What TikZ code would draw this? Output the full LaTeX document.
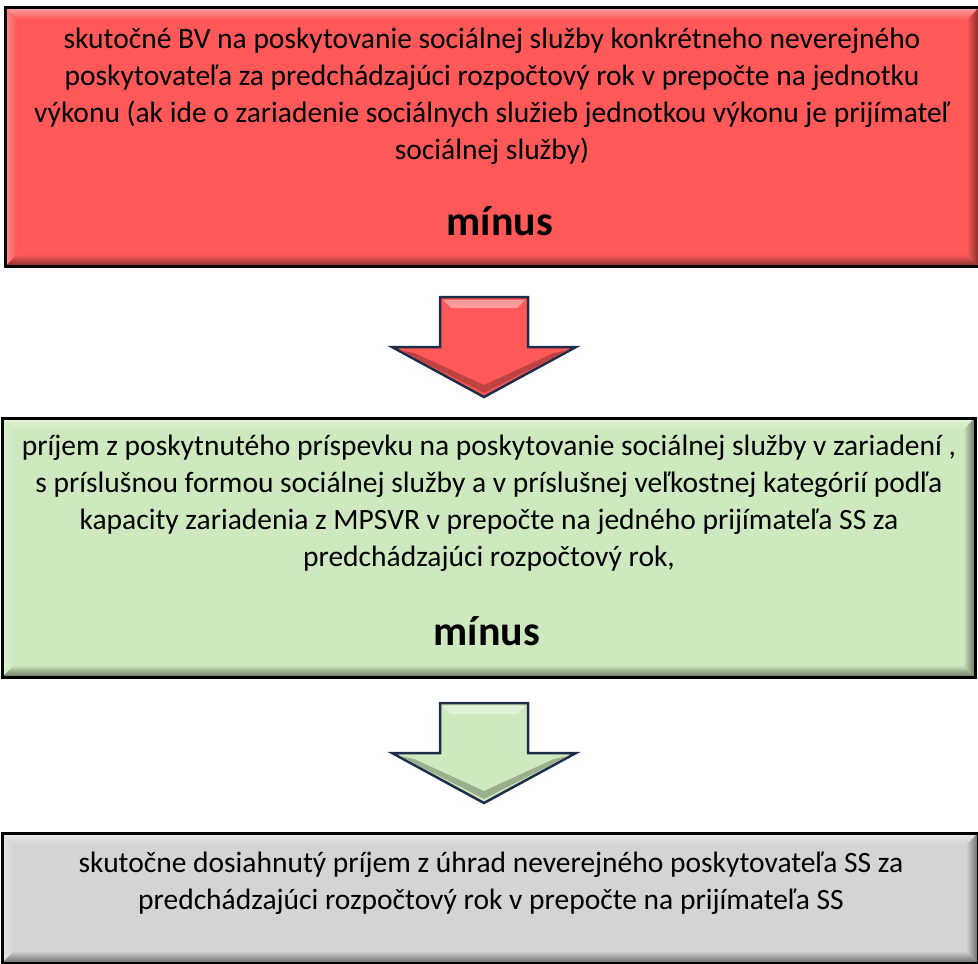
\documentclass[tikz,border=0pt]{standalone}
\usepackage{fontspec}
\setmainfont{Carlito}
\usepackage{tikz}
\usetikzlibrary{calc,positioning}

\definecolor{boxred}{RGB}{255,88,88}
\definecolor{boxgreen}{RGB}{206,233,191}
\definecolor{boxgray}{RGB}{212,212,212}
\definecolor{arrowline}{RGB}{31,45,74}

\tikzset{
  box/.style={rectangle, inner sep=0pt, outer sep=0pt},
  boxtext/.style={align=center, inner sep=0pt, font=\fontsize{29.5}{37}\selectfont},
  minustext/.style={inner sep=0pt, font=\fontsize{42}{50}\selectfont\bfseries},
  blockarrow/.style={draw=arrowline, line width=2.5pt, line join=miter}
}

\newcommand{\bevel}[2]{%
  \shade[top color=#2!55!white, bottom color=#2] (#1.north west) -- (#1.north east)
    -- ($(#1.north east)+(-12,12)$) -- ($(#1.north west)+(12,12)$) -- cycle;
  \shade[left color=#2!70!white, right color=#2] (#1.north west) -- ($(#1.north west)+(12,12)$)
    -- ($(#1.south west)+(12,-12)$) -- (#1.south west) -- cycle;
  \shade[top color=#2, bottom color=#2!50!black] (#1.south west) -- ($(#1.south west)+(12,-12)$)
    -- ($(#1.south east)+(-12,-12)$) -- (#1.south east) -- cycle;
  \shade[left color=#2, right color=#2!50!black] (#1.north east) -- (#1.south east)
    -- ($(#1.south east)+(-12,-12)$) -- ($(#1.north east)+(-12,12)$) -- cycle;
  \draw[line width=3pt] (#1.north west) rectangle (#1.south east);
}

\newcommand{\downarr}[2]{%
  \draw[blockarrow, fill=#2] ($(#1)+(-44,0)$) -- ($(#1)+(44,0)$) -- ($(#1)+(44,50)$)
    -- ($(#1)+(92,50)$) -- ($(#1)+(0,100)$) -- ($(#1)+(-92,50)$) -- ($(#1)+(-44,50)$) -- cycle;
  \fill[#2!60!white] ($(#1)+(-41,3)$) -- ($(#1)+(41,3)$) -- ($(#1)+(33,11)$) -- ($(#1)+(-33,11)$) -- cycle;
  \fill[#2!75!black] ($(#1)+(-84,53)$) -- ($(#1)+(0,96)$) -- ($(#1)+(84,53)$) -- ($(#1)+(70,56)$)
    -- ($(#1)+(0,88)$) -- ($(#1)+(-70,56)$) -- cycle;
}

\begin{document}
\begin{tikzpicture}[x=1pt, y=-1pt]
  \useasboundingbox (0,0) rectangle (978,964);

  \node[box, fill=boxred, minimum width=974pt, minimum height=259pt] (bv) at (492,137) {};
  \bevel{bv}{boxred}
  \node[boxtext, anchor=north] (bvtext) at (492,28) {skutočné BV na poskytovanie sociálnej služby konkrétneho neverejného\\
    poskytovateľa za predchádzajúci rozpočtový rok v prepočte na jednotku\\
    výkonu (ak ide o zariadenie sociálnych služieb jednotkou výkonu je prijímateľ\\
    sociálnej služby)};
  \node[minustext, anchor=base] (minus1) at (500,235) {mínus};

  \coordinate (arrow1) at (484,297);
  \downarr{arrow1}{boxred}

  \node[box, fill=boxgreen, minimum width=973pt, minimum height=259pt] (prijem) at (488.5,547.5) {};
  \bevel{prijem}{boxgreen}
  \node[boxtext, anchor=north] (prijemtext) at (489,435) {príjem z poskytnutého príspevku na poskytovanie sociálnej služby v zariadení ,\\
    s príslušnou formou sociálnej služby a v príslušnej veľkostnej kategórií podľa\\
    kapacity zariadenia z MPSVR v prepočte na jedného prijímateľa SS za\\
    predchádzajúci rozpočtový rok,};
  \node[minustext, anchor=base] (minus2) at (487,645) {mínus};

  \coordinate (arrow2) at (484,703);
  \downarr{arrow2}{boxgreen}

  \node[box, fill=boxgray, minimum width=976pt, minimum height=130pt] (uhrady) at (490,898) {};
  \bevel{uhrady}{boxgray}
  \node[boxtext, anchor=north] (uhradytext) at (491,852) {skutočne dosiahnutý príjem z úhrad neverejného poskytovateľa SS za\\
    predchádzajúci rozpočtový rok v prepočte na prijímateľa SS};
\end{tikzpicture}
\end{document}
